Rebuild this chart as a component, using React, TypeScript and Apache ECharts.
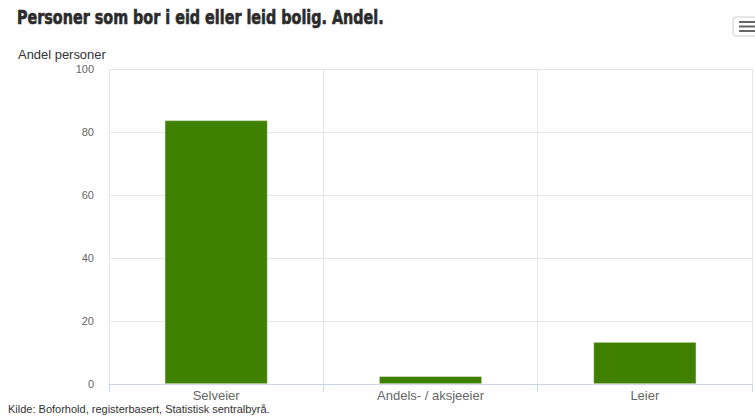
import React, { useEffect, useRef } from "react";
import * as echarts from "echarts";

const categories = ["Selveier", "Andels- / aksjeeier", "Leier"];
const values = [83.7, 2.5, 13.3];
const yTicks = [0, 20, 40, 60, 80, 100];

export default function App() {
  const ref = useRef<HTMLDivElement>(null);
  useEffect(() => {
    const chart = echarts.init(ref.current!, null, { renderer: "svg" });
    chart.setOption({
      animation: false,
      backgroundColor: "#ffffff",
      graphic: [
        {
          type: "text",
          x: 17,
          y: 8,
          scaleX: 0.84,
          style: {
            text: "Personer som bor i eid eller leid bolig. Andel.",
            fontFamily: "DejaVu Sans Condensed",
            fontWeight: "bold",
            fontSize: 19,
            fill: "#2b2b2b",
            stroke: "#2b2b2b",
            lineWidth: 0.6,
          },
        },
        {
          type: "rect",
          shape: { x: 733, y: 17, width: 30, height: 19, r: 3 },
          style: { fill: "#ffffff", stroke: "#cccccc", lineWidth: 1 },
        },
        { type: "rect", shape: { x: 739, y: 21, width: 16, height: 2 }, style: { fill: "#666666" } },
        { type: "rect", shape: { x: 739, y: 25.5, width: 16, height: 2 }, style: { fill: "#666666" } },
        { type: "rect", shape: { x: 739, y: 30, width: 16, height: 2 }, style: { fill: "#666666" } },
        {
          type: "text",
          x: 18,
          y: 49,
          scaleX: 1.08,
          style: {
            text: "Andel personer",
            fontFamily: "Liberation Sans",
            fontSize: 12,
            fill: "#333333",
          },
        },
        {
          type: "text",
          left: 8,
          top: 403,
          style: {
            text: "Kilde: Boforhold, registerbasert, Statistisk sentralbyrå.",
            fontFamily: "Liberation Sans",
            fontSize: 11,
            fill: "#333333",
          },
        },
      ],
      grid: { left: 109, right: 3, top: 69, bottom: 32, containLabel: false },
      xAxis: {
        type: "category",
        data: categories,
        axisLine: { lineStyle: { color: "#ccd6eb" } },
        axisTick: { show: true, length: 8, lineStyle: { color: "#ccd6eb" } },
        axisLabel: {
          color: "#666666",
          fontFamily: "Liberation Sans",
          fontSize: 13,
          margin: 5,
        },
        splitLine: { show: true, lineStyle: { color: "#e6e6e6" } },
      },
      yAxis: {
        type: "value",
        min: yTicks[0],
        max: yTicks[yTicks.length - 1],
        interval: 20,
        axisLine: { show: false },
        axisTick: { show: false },
        axisLabel: {
          color: "#666666",
          fontFamily: "Liberation Sans",
          fontSize: 11,
          margin: 15,
        },
        splitLine: { lineStyle: { color: "#e6e6e6" } },
      },
      series: [
        {
          type: "bar",
          data: values,
          barWidth: "48%",
          itemStyle: { color: "#3f8000", borderColor: "#ffffff", borderWidth: 0.5 },
        },
      ],
    });
    return () => chart.dispose();
  }, []);
  return (
    <div
      ref={ref}
      style={{ position: "fixed", left: 0, top: 0, width: 755, height: 416 }}
    />
  );
}
